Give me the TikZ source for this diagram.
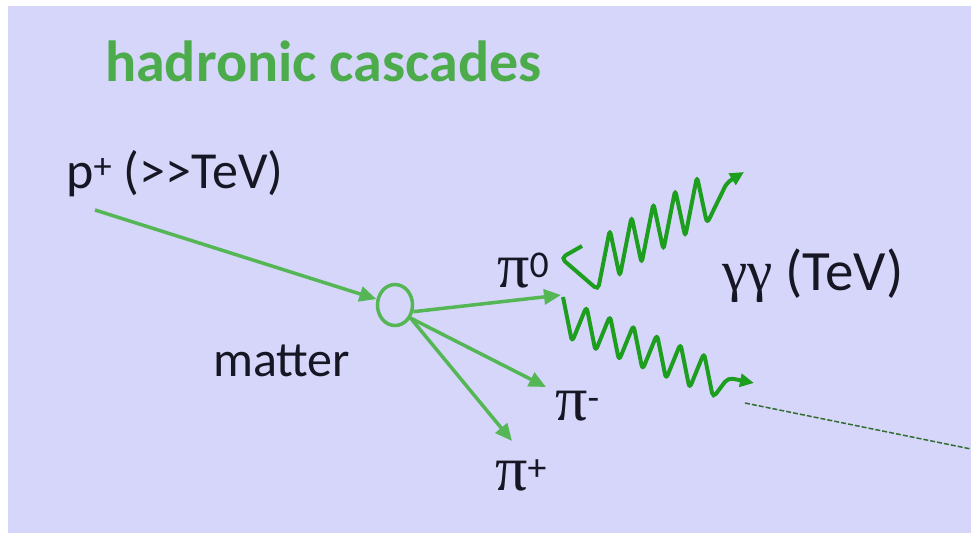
\documentclass[tikz,border=0pt]{standalone}
\usepackage{fontspec}
\setmainfont{Carlito}[Ligatures=TeXOff]
\newfontfamily\greekfont{Liberation Serif}
\usepackage{xcolor}
\usepackage{tikz}
\usetikzlibrary{shapes.geometric,arrows.meta}

\definecolor{slidebg}{RGB}{214,214,250}
\definecolor{titlegreen}{RGB}{76,172,76}
\definecolor{pigreen}{RGB}{84,182,84}
\definecolor{photongreen}{RGB}{30,158,30}
\definecolor{inkdark}{RGB}{22,22,36}

\newcommand{\bigpi}{{\greekfont\fontsize{64}{70}\selectfont π}}

\begin{document}
\begin{tikzpicture}[x=1pt,y=-1pt,
    every node/.style={inner sep=0pt,text=inkdark},
    pion/.style={draw=pigreen,line width=3.5pt,-{Triangle[length=17pt,width=15pt]}},
    photon/.style={draw=photongreen,line width=4pt,rounded corners=5pt,
        -{Triangle[length=14pt,width=13pt]}}]
    % Background
    \useasboundingbox (0,0) rectangle (971,533);
    \fill[white] (0,0) rectangle (971,533);
    \fill[slidebg] (8,6) rectangle (971,533);

    % Labels
    \node[anchor=base west,text=titlegreen,font=\fontsize{58}{66}\selectfont\bfseries] (title) at (105,81) {hadronic cascades};
    \node[anchor=base west,font=\fontsize{52}{60}\selectfont] (proton) at (66,188) {p\textsuperscript{+} (>>TeV)};
    \node[anchor=base west,font=\fontsize{50}{58}\selectfont] (matter) at (213,376) {matter};
    \node[anchor=base west,font=\fontsize{54}{64}\selectfont] (pizero) at (497,287) {\bigpi\textsuperscript{0}};
    \node[anchor=base west,font=\fontsize{54}{64}\selectfont] (piminus) at (555,420) {\bigpi\textsuperscript{-}};
    \node[anchor=base west,font=\fontsize{54}{64}\selectfont] (piplus) at (495,490) {\bigpi\textsuperscript{+}};
    \node[anchor=base west,font=\fontsize{57}{64}\selectfont] (gammas) at (722,290) {{\greekfont γγ} (TeV)};

    % Interaction point
    \node[ellipse,draw=pigreen,line width=3.5pt,minimum width=35pt,minimum height=41pt] (vertex) at (395,305) {};

    % Free ends
    \coordinate (pin) at (95,210);
    \coordinate (pizeroend) at (561,295);
    \coordinate (piminusend) at (546,387);
    \coordinate (piplusend) at (512,441);
    \coordinate (upstart) at (582,246);
    \coordinate (upend) at (744,172);
    \coordinate (lowstart) at (563,297);
    \coordinate (lowend) at (754,383);
    \coordinate (trailstart) at (745,403);
    \coordinate (trailend) at (971,449);

    % Pions
    \draw[pion] (pin) -- (vertex);
    \draw[pion] (vertex.-20) -- (pizeroend);
    \draw[pion] (vertex.-40) -- (piminusend);
    \draw[pion] (vertex.-40) -- (piplusend);

    % Photons (zigzag)
    \draw[photon] (upstart) -- ++(-21,12) -- ++(37,32)
        \foreach \k in {1,...,5} { -- ++(11.8,-60.3) -- ++(10,47) }
        -- ++(20,-41) -- (upend);
    \draw[photon] (lowstart)
        \foreach \k in {0,...,5} { -- ++(9,45) -- ++(14.5,-35.7) }
        -- ++(9,45) -- ++(15,-20) -- (lowend);

    % Trail
    \draw[pigreen!60!black,line width=1.5pt,dash pattern=on 5pt off 2pt] (trailstart) -- (trailend);
\end{tikzpicture}
\end{document}
